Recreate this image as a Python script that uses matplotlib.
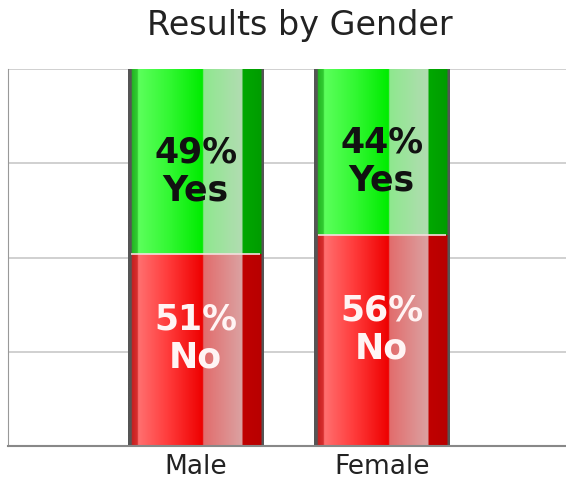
import numpy as np
import matplotlib.pyplot as plt
from matplotlib.colors import to_rgb

categories = ['Male', 'Female']
no_pct = [51, 56]
yes_pct = [49, 44]
title = 'Results by Gender'

# horizontal shading of the bars: (fraction of bar width, colour)
red_stops = [(0.0, '#555555'), (0.025, '#555555'), (0.03, '#c82020'), (0.07, '#d83030'),
             (0.075, '#ff7070'), (0.3, '#ff3a3a'), (0.55, '#ee0000'), (0.555, '#e26c6c'),
             (0.84, '#dba2a2'), (0.845, '#c00000'), (0.98, '#b80000'), (0.985, '#555555'),
             (1.0, '#555555')]
green_stops = [(0.0, '#555555'), (0.025, '#555555'), (0.03, '#22b822'), (0.07, '#33cc33'),
               (0.075, '#5cff5c'), (0.3, '#33f833'), (0.55, '#00ec00'), (0.555, '#8ee88e'),
               (0.84, '#b2dcb2'), (0.845, '#00a800'), (0.98, '#009c00'), (0.985, '#555555'),
               (1.0, '#555555')]


def gradient(stops, n=540):
    pos = np.linspace(0, 1, n)
    fr = [s[0] for s in stops]
    cols = np.array([to_rgb(s[1]) for s in stops])
    img = np.stack([np.interp(pos, fr, cols[:, k]) for k in range(3)], axis=-1)
    return img[np.newaxis, :, :]


fig = plt.figure(figsize=(5.66, 4.82), dpi=100)
ax = fig.add_axes([8 / 566, 1 - 446 / 482, 1 - 8 / 566, (446 - 69) / 482])

x = np.arange(len(categories))
width = 0.73
no_bars = ax.bar(x, no_pct, width, color='none', edgecolor='none', zorder=2)
yes_bars = ax.bar(x, yes_pct, width, bottom=no_pct, color='none', edgecolor='none', zorder=2)

for bars, stops in [(no_bars, red_stops), (yes_bars, green_stops)]:
    img = gradient(stops)
    for p in bars:
        x0, y0 = p.get_x(), p.get_y()
        ax.imshow(img, extent=[x0, x0 + p.get_width(), y0, y0 + p.get_height()],
                  aspect='auto', interpolation='bilinear', zorder=2)

# light seam between the two segments
for i in range(len(categories)):
    ax.hlines(no_pct[i], x[i] - width / 2 + 0.02, x[i] + width / 2 - 0.02,
              color='#f4dede', lw=1.2, zorder=3)

for i in range(len(categories)):
    ax.annotate(f'{yes_pct[i]}%\nYes', (x[i], no_pct[i] + yes_pct[i] / 2),
                xytext=(0, -7), textcoords='offset points', ha='center', va='center',
                fontsize=25, fontweight='bold', color='#111111', linespacing=1.15, zorder=4)
    ax.annotate(f'{no_pct[i]}%\nNo', (x[i], no_pct[i] / 2),
                xytext=(0, 8), textcoords='offset points', ha='center', va='center',
                fontsize=25, fontweight='bold', color='#fff4f4', linespacing=1.15, zorder=4)

ax.set_xlim(-1.008, 1.99)
ax.set_ylim(0, 100)
ax.set_yticks([25, 50, 75, 100])
ax.yaxis.grid(True, color='#c8c8c8', lw=1.2)
ax.set_axisbelow(True)
ax.tick_params(axis='y', left=False, labelleft=False)
ax.set_xticks(x)
ax.set_xticklabels(categories, fontsize=19, color='#222222')
ax.tick_params(axis='x', length=0, pad=6)

for s in ['top', 'right']:
    ax.spines[s].set_visible(False)
ax.spines['left'].set_color('#999999')
ax.spines['bottom'].set_color('#888888')
ax.spines['bottom'].set_linewidth(1.5)

fig.text(300 / 566, 1 - 35 / 482, title, ha='center', va='baseline', fontsize=24, color='#222222')

plt.savefig('out.png', dpi=100)
